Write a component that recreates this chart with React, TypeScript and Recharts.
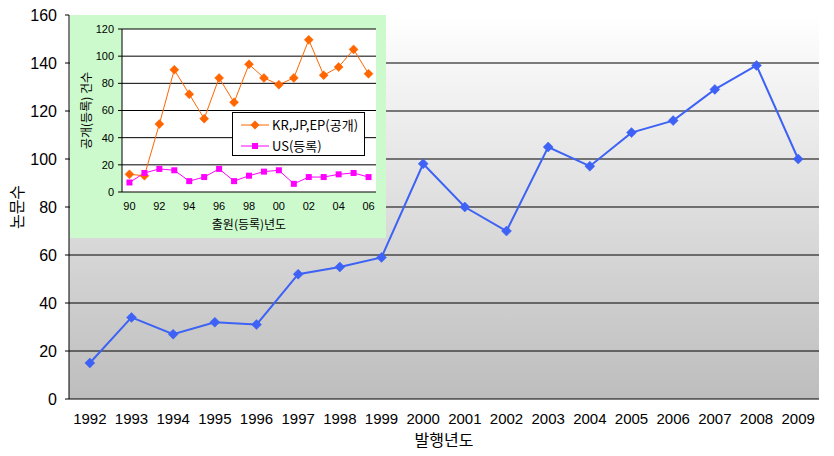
import React from 'react';
import { LineChart, Line, XAxis, YAxis, CartesianGrid } from 'recharts';

const years = ['1992', '1993', '1994', '1995', '1996', '1997', '1998', '1999', '2000', '2001', '2002', '2003', '2004', '2005', '2006', '2007', '2008', '2009'];
const papers = [15, 34, 27, 32, 31, 52, 55, 59, 98, 80, 70, 105, 97, 111, 116, 129, 139, 100];
const mainYTicks = [0, 20, 40, 60, 80, 100, 120, 140, 160];
const mainGridValues = [20, 40, 60, 80, 100, 120, 140];

const insetYears = ['90', '91', '92', '93', '94', '95', '96', '97', '98', '99', '00', '01', '02', '03', '04', '05', '06'];
const krjpep = [13, 12, 50, 90, 72, 54, 84, 66, 94, 84, 79, 84, 112, 86, 92, 105, 87];
const usReg = [7, 14, 17, 16, 8, 11, 17, 8, 12, 15, 16, 6, 11, 11, 13, 14, 11];
const insetYTicks = [0, 20, 40, 60, 80, 100, 120];
const insetGridValues = [20, 40, 60, 80, 100, 120];

const seriesNames = ['KR,JP,EP(공개)', 'US(등록)'];

const FONT = "'Liberation Sans', 'Noto Sans CJK KR', sans-serif";
const KFONT = "'Noto Sans CJK KR', sans-serif";

const BLUE = '#3d62f5';
const ORANGE = '#ff6600';
const MAGENTA = '#ff00ff';

const mainData = years.map((y, i) => ({ year: y, papers: papers[i] }));
const insetData = insetYears.map((y, i) => ({ yr: y, a: krjpep[i], b: usReg[i] }));

// category boundary positions (0..n) for the inward tick marks
const mainBoundaries = Array.from({ length: years.length + 1 }, (_, i) => i);
const insetBoundaries = Array.from({ length: insetYears.length + 1 }, (_, i) => i);

const makeDiamond = (color: string, r: number) => (props: any) => {
  const { cx, cy, index } = props;
  if (cx == null || cy == null) return <g key={index} />;
  return (
    <path
      key={index}
      d={`M${cx},${cy - r}L${cx + r},${cy}L${cx},${cy + r}L${cx - r},${cy}Z`}
      fill={color}
      stroke={color}
      strokeWidth={0.5}
    />
  );
};

const makeSquare = (color: string, s: number) => (props: any) => {
  const { cx, cy, index } = props;
  if (cx == null || cy == null) return <g key={index} />;
  return <rect key={index} x={cx - s / 2} y={cy - s / 2} width={s} height={s} fill={color} />;
};

export default function App() {
  return (
    <div style={{ position: 'absolute', left: 0, top: 0, width: 834, height: 456, background: '#fff' }}>
      <svg width={0} height={0} style={{ position: 'absolute' }}>
        <defs>
          <linearGradient id="mainBg" x1="0" y1="0" x2="0" y2="1">
            <stop offset="0%" stopColor="#ffffff" />
            <stop offset="100%" stopColor="#bdbdbd" />
          </linearGradient>
        </defs>
      </svg>
      <LineChart width={834} height={456} data={mainData} margin={{ top: 15, right: 15, bottom: 0, left: 0 }}>
        <CartesianGrid vertical={false} horizontalValues={mainGridValues} stroke="#000" fill="url(#mainBg)" fillOpacity={1} />
        <XAxis
          xAxisId="tk"
          type="number"
          domain={[0, years.length]}
          ticks={mainBoundaries}
          interval={0}
          height={0}
          mirror
          axisLine={false}
          tick={false}
          tickLine={{ stroke: '#000' }}
          tickSize={4}
        />
        <XAxis
          dataKey="year"
          scale="band"
          height={57}
          interval={0}
          axisLine={{ stroke: '#000' }}
          tickLine={false}
          tickSize={5}
          tickMargin={9}
          tick={{ fontSize: 15, fill: '#000', fontFamily: FONT }}
          label={{
            content: (p: any) => {
              const vb = p.viewBox || {};
              return (
                <text x={vb.x + vb.width / 2} y={vb.y + 47} textAnchor="middle" fontSize={16} fontFamily={KFONT} fill="#000">
                  발행년도
                </text>
              );
            },
          }}
        />
        <YAxis
          width={69}
          domain={[0, 160]}
          ticks={mainYTicks}
          interval={0}
          axisLine={{ stroke: '#000' }}
          tickLine={{ stroke: '#000' }}
          tickSize={4}
          tickMargin={8}
          tick={{ fontSize: 16, fill: '#000', fontFamily: FONT }}
          label={{
            content: (p: any) => {
              const vb = p.viewBox || {};
              const cx = vb.x + 16;
              const cy = vb.y + vb.height / 2;
              return (
                <text x={cx} y={cy} transform={`rotate(-90 ${cx} ${cy})`} textAnchor="middle" dominantBaseline="central" fontSize={16} fontFamily={KFONT} fill="#000">
                  논문수
                </text>
              );
            },
          }}
        />
        <YAxis yAxisId="r" orientation="right" width={0} domain={[0, 160]} tick={false} tickLine={false} axisLine={{ stroke: '#8a8a8a' }} />
        <Line
          dataKey="papers"
          stroke={BLUE}
          strokeWidth={2}
          dot={makeDiamond(BLUE, 5)}
          activeDot={false}
          isAnimationActive={false}
        />
      </LineChart>

      <div style={{ position: 'absolute', left: 70, top: 15, width: 316, height: 223, background: '#ccfacc' }}>
        <LineChart width={316} height={223} data={insetData} margin={{ top: 14, right: 10, bottom: 0, left: 0 }}>
          <CartesianGrid vertical={false} horizontalValues={insetGridValues} stroke="#000" fill="#ffffff" fillOpacity={1} />
          <XAxis
            xAxisId="tk"
            type="number"
            domain={[0, insetYears.length]}
            ticks={insetBoundaries}
            interval={0}
            height={0}
            mirror
            axisLine={false}
            tick={false}
            tickLine={{ stroke: '#000' }}
            tickSize={3}
          />
          <XAxis
            dataKey="yr"
            scale="band"
            height={46}
            interval={1}
            axisLine={{ stroke: '#000' }}
            tickLine={false}
            tickSize={4}
            tickMargin={6}
            tick={{ fontSize: 11, fill: '#000', fontFamily: FONT }}
            label={{
              content: (p: any) => {
                const vb = p.viewBox || {};
                return (
                  <text x={vb.x + vb.width / 2} y={vb.y + 37} textAnchor="middle" fontSize={12} fontFamily={KFONT} fill="#000">
                    출원(등록)년도
                  </text>
                );
              },
            }}
          />
          <YAxis
            width={52}
            domain={[0, 120]}
            ticks={insetYTicks}
            interval={0}
            axisLine={{ stroke: '#000' }}
            tickLine={{ stroke: '#000' }}
            tickSize={4}
            tickMargin={4}
            tick={{ fontSize: 11, fill: '#000', fontFamily: FONT }}
            label={{
              content: (p: any) => {
                const vb = p.viewBox || {};
                const cx = vb.x + 15;
                const cy = vb.y + vb.height / 2;
                return (
                  <text x={cx} y={cy} transform={`rotate(-90 ${cx} ${cy})`} textAnchor="middle" dominantBaseline="central" fontSize={12} fontFamily={KFONT} fill="#000">
                    공개(등록) 건수
                  </text>
                );
              },
            }}
          />
          <Line dataKey="a" stroke={ORANGE} strokeWidth={1} dot={makeDiamond(ORANGE, 4.5)} activeDot={false} isAnimationActive={false} />
          <Line dataKey="b" stroke={MAGENTA} strokeWidth={1} dot={makeSquare(MAGENTA, 6)} activeDot={false} isAnimationActive={false} />
        </LineChart>
        <div
          style={{
            position: 'absolute',
            left: 162,
            top: 97,
            width: 131,
            height: 42,
            background: '#fff',
            border: '1px solid #000',
            fontFamily: KFONT,
            fontSize: 13,
            color: '#000',
          }}
        >
          {seriesNames.map((name, i) => (
            <div key={name} style={{ position: 'absolute', left: 7, top: i === 0 ? 3 : 24, height: 18, display: 'flex', alignItems: 'center' }}>
              <svg width={30} height={18} style={{ display: 'block' }}>
                <line x1={1} y1={9} x2={29} y2={9} stroke={i === 0 ? ORANGE : MAGENTA} strokeWidth={1} />
                {i === 0 ? (
                  <path d="M15,4.5L19.5,9L15,13.5L10.5,9Z" fill={ORANGE} />
                ) : (
                  <rect x={12} y={6} width={6} height={6} fill={MAGENTA} />
                )}
              </svg>
              <span style={{ marginLeft: 2, whiteSpace: 'nowrap', lineHeight: '18px' }}>{name}</span>
            </div>
          ))}
        </div>
      </div>
    </div>
  );
}
